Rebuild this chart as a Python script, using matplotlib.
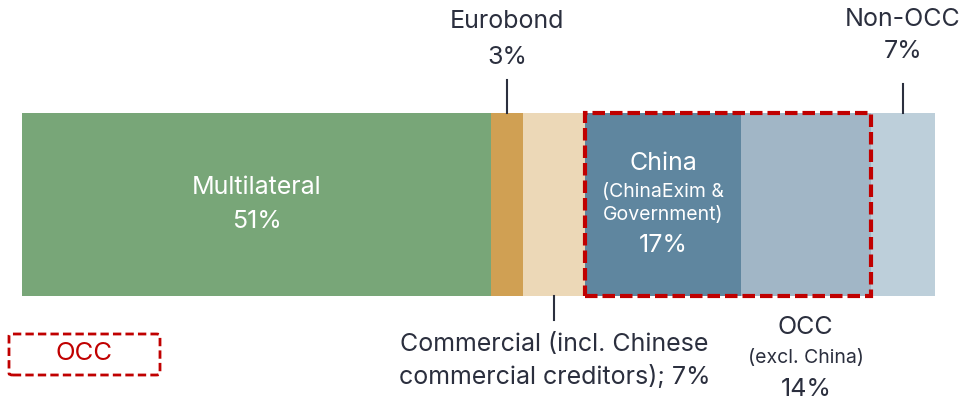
import numpy as np
import matplotlib
matplotlib.use("Agg")
import matplotlib.pyplot as plt
import matplotlib.transforms as mtransforms
from matplotlib.patches import FancyBboxPatch, Rectangle

plt.rcParams['font.family'] = ['Inter', 'DejaVu Sans']

# data (share of debt stock, %)
categories = ["Multilateral", "Eurobond", "Commercial", "China", "OCC", "Non-OCC"]
shares = [51.4, 3.5, 6.8, 17.0, 14.3, 7.0]
pct_labels = ["51%", "3%", "7%", "17%", "14%", "7%"]
colors = ["#78a678", "#d0a053", "#ecd8b7", "#5f869f", "#a1b6c6", "#bdcfda"]

shares = np.array(shares)
lefts = np.concatenate([[0], np.cumsum(shares)[:-1]])
centers = lefts + shares / 2

# figure
fig = plt.figure(figsize=(9.59, 4.0), dpi=100)
ax = fig.add_axes([0, 0, 1, 1])
ax.axis("off")

# map: bar spans x 22..935 px, y 113..296 px
px_per_unit = (935 - 22) / shares.sum()
ax.set_xlim(-22 / px_per_unit, (959 - 22) / px_per_unit)
bar_h = 183
ax.set_ylim(-0.5 - (400 - 296) / bar_h, 0.5 + 113 / bar_h)

ax.barh(0, shares, left=lefts, height=1.0, color=colors, edgecolor="none")

# blended transform: x in data, y in figure fraction (from top in px)
trans = mtransforms.blended_transform_factory(ax.transData, fig.transFigure)
def fy(px):
    return 1 - px / 400

txt = "#2b2f3e"
fs = 18
fs_small = 14

# inside labels
ax.text(centers[0], fy(188), "Multilateral", transform=trans, ha="center", va="center",
        color="white", fontsize=fs)
ax.text(centers[0], fy(221), pct_labels[0], transform=trans, ha="center", va="center",
        color="white", fontsize=fs)
ax.text(centers[3], fy(163), "China", transform=trans, ha="center", va="center",
        color="white", fontsize=fs)
ax.text(centers[3], fy(192), "(ChinaExim &", transform=trans, ha="center", va="center",
        color="white", fontsize=fs_small)
ax.text(centers[3], fy(215), "Government)", transform=trans, ha="center", va="center",
        color="white", fontsize=fs_small)
ax.text(centers[3], fy(246), pct_labels[3], transform=trans, ha="center", va="center",
        color="white", fontsize=fs)

# leader lines
ax.plot([centers[1], centers[1]], [fy(80), fy(113)], transform=trans, color=txt, lw=1.5)
ax.plot([centers[2], centers[2]], [fy(296), fy(320)], transform=trans, color=txt, lw=1.5)
ax.plot([centers[5], centers[5]], [fy(84), fy(113)], transform=trans, color=txt, lw=1.5)

# outside labels
ax.text(centers[1], fy(22), "Eurobond", transform=trans, ha="center", va="center",
        color=txt, fontsize=fs)
ax.text(centers[1], fy(57), pct_labels[1], transform=trans, ha="center", va="center",
        color=txt, fontsize=fs)
ax.text(centers[5], fy(20), "Non-OCC", transform=trans, ha="center", va="center",
        color=txt, fontsize=fs)
ax.text(centers[5], fy(52), pct_labels[5], transform=trans, ha="center", va="center",
        color=txt, fontsize=fs)
ax.text(centers[2], fy(345), "Commercial (incl. Chinese", transform=trans, ha="center",
        va="center", color=txt, fontsize=fs)
ax.text(centers[2], fy(377), "commercial creditors); " + pct_labels[2], transform=trans,
        ha="center", va="center", color=txt, fontsize=fs)
ax.text(centers[4], fy(328), "OCC", transform=trans, ha="center", va="center",
        color=txt, fontsize=fs)
ax.text(centers[4], fy(358), "(excl. China)", transform=trans, ha="center", va="center",
        color=txt, fontsize=fs_small)
ax.text(centers[4], fy(390), pct_labels[4], transform=trans, ha="center", va="center",
        color=txt, fontsize=fs)

# dashed OCC box around China + OCC
occ_left = lefts[3]
occ_right = lefts[4] + shares[4]
ax.add_patch(Rectangle((occ_left, -0.5), occ_right - occ_left, 1.0, fill=False,
                       edgecolor="#c00000", lw=3, linestyle=(0, (3, 1.2)),
                       clip_on=False))

# legend box
leg = FancyBboxPatch((9 / 959, 1 - 375 / 400), 151 / 959, 41 / 400,
                     boxstyle="round,pad=0,rounding_size=0.004",
                     transform=fig.transFigure, fill=False, edgecolor="#c00000",
                     lw=2, linestyle=(0, (3, 1.5)))
fig.patches.append(leg)
fig.text(84 / 959, fy(354), "OCC", ha="center", va="center", color="#c00000", fontsize=18.5)

fig.savefig("out.png", dpi=100)
